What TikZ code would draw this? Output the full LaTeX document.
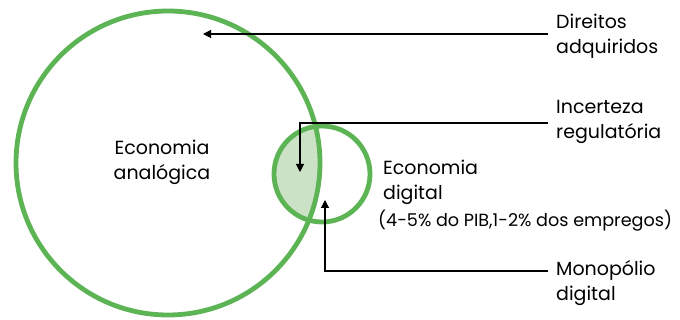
\documentclass[tikz,border=0pt]{standalone}
\usepackage{fontspec}
\setmainfont{Poppins}
\usetikzlibrary{arrows.meta}
\definecolor{vgreen}{RGB}{92,180,84}
\definecolor{vfill}{RGB}{204,226,198}
\begin{document}
\begin{tikzpicture}[x=1pt,y=-1pt,
  ring/.style={draw=vgreen,line width=4.8pt},
  lbl/.style={font=\fontsize{19}{25}\selectfont,align=left,inner sep=0pt,text depth=0pt},
  conn/.style={draw=black,line width=1.1pt,-{Triangle[length=8pt,width=8pt]}}]
\useasboundingbox (0,0) rectangle (680,320);
\coordinate (bigc) at (168,163);
\coordinate (smc) at (322,174);
\begin{scope}
  \clip (bigc) circle (152pt);
  \fill[vfill] (smc) circle (48pt);
\end{scope}
\draw[ring] (bigc) circle (152pt);
\draw[ring] (smc) circle (48pt);
% labels
\node[lbl,align=center] (ana) at (162,160) {Economia\\analógica};
\node[lbl,anchor=west] (dig) at (383,180) {Economia\\digital};
\node[lbl,anchor=west,font=\fontsize{17.6}{20}\selectfont] (digsub) at (378,218) {(4-5\% do PIB,1-2\% dos empregos)};
\node[lbl,anchor=west] (dir) at (556,34) {Direitos\\adquiridos};
\node[lbl,anchor=west] (inc) at (556,119) {Incerteza\\regulatória};
\node[lbl,anchor=west] (mon) at (556,281) {Monopólio\\digital};
% connector ends
\coordinate (dirTip) at (203,34);
\coordinate (incTip) at (300,172);
\coordinate (monTip) at (325,200);
\draw[conn] ([xshift=-8pt]dir.west) -- (dirTip);
\draw[conn] ([xshift=-8pt,yshift=-4pt]inc.west) -| (incTip);
\draw[conn] ([xshift=-8pt,yshift=10pt]mon.west) -| (monTip);
\end{tikzpicture}
\end{document}
